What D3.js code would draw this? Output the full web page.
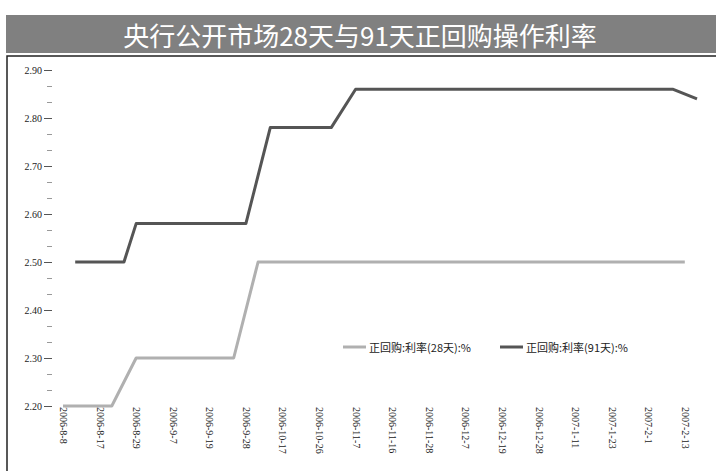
<!DOCTYPE html>
<html>
<head>
<meta charset="utf-8">
<script src="https://cdn.jsdelivr.net/npm/d3@7"></script>
<style>
  body { margin: 0; background: #fff; }
  text { font-family: "Noto Sans CJK SC", "DejaVu Sans", sans-serif; }
  .tick-label { font-family: "Liberation Serif", "DejaVu Serif", serif; font-size: 10px; fill: #222; }
</style>
</head>
<body>
<div id="my_dataviz"></div>
<script>

// operation dates (category axis), one label every third date
var dates = ["2006-8-8", "2006-8-10", "2006-8-15", "2006-8-17", "2006-8-22", "2006-8-24", "2006-8-29", "2006-8-31",
  "2006-9-5", "2006-9-7", "2006-9-12", "2006-9-14", "2006-9-19", "2006-9-21", "2006-9-26", "2006-9-28",
  "2006-10-10", "2006-10-12", "2006-10-17", "2006-10-19", "2006-10-24", "2006-10-26", "2006-10-31",
  "2006-11-2", "2006-11-7", "2006-11-9", "2006-11-14", "2006-11-16", "2006-11-21", "2006-11-23", "2006-11-28", "2006-11-30",
  "2006-12-5", "2006-12-7", "2006-12-12", "2006-12-14", "2006-12-19", "2006-12-21", "2006-12-26", "2006-12-28",
  "2007-1-4", "2007-1-9", "2007-1-11", "2007-1-16", "2007-1-18", "2007-1-23", "2007-1-25", "2007-1-30",
  "2007-2-1", "2007-2-6", "2007-2-8", "2007-2-13", "2007-2-15"]

// 28-day repo rate, null = no operation that day
var rate28 = [2.20, 2.20, 2.20, 2.20, 2.20, null, 2.30, 2.30, 2.30, 2.30, 2.30, 2.30, 2.30, 2.30, 2.30, null,
  2.50, 2.50, 2.50, 2.50, 2.50, 2.50, 2.50, 2.50, 2.50, 2.50, 2.50, 2.50, 2.50, 2.50, 2.50, 2.50,
  2.50, 2.50, 2.50, 2.50, 2.50, 2.50, 2.50, 2.50, 2.50, 2.50, 2.50, 2.50, 2.50, 2.50, 2.50, 2.50,
  2.50, 2.50, 2.50, 2.50, null]

// 91-day repo rate
var rate91 = [null, 2.50, 2.50, 2.50, 2.50, 2.50, 2.58, 2.58, 2.58, 2.58, 2.58, 2.58, 2.58, 2.58, 2.58, 2.58,
  null, 2.78, 2.78, 2.78, 2.78, 2.78, 2.78, null, 2.86, 2.86, 2.86, 2.86, 2.86, 2.86, 2.86, 2.86,
  2.86, 2.86, 2.86, 2.86, 2.86, 2.86, 2.86, 2.86, 2.86, 2.86, 2.86, 2.86, 2.86, 2.86, 2.86, 2.86,
  2.86, 2.86, 2.86, null, 2.84]

var yTicks = [2.20, 2.30, 2.40, 2.50, 2.60, 2.70, 2.80, 2.90]
var seriesNames = ["正回购:利率(28天):%", "正回购:利率(91天):%"]
var seriesColors = ["#b0b0b0", "#555555"]

var W = 716, H = 471;

var svg = d3.select("#my_dataviz")
  .append("svg")
  .attr("width", W)
  .attr("height", H);

// title bar
svg.append("rect")
  .attr("x", 6).attr("y", 15)
  .attr("width", W - 6).attr("height", 38)
  .attr("fill", "#808080");
svg.append("text")
  .attr("x", 360).attr("y", 34)
  .attr("text-anchor", "middle")
  .attr("dominant-baseline", "central")
  .attr("fill", "#fff")
  .style("font-size", "26px")
  .text("央行公开市场28天与91天正回购操作利率");

// frame
svg.append("path")
  .attr("d", "M7," + H + "V56H" + W)
  .attr("fill", "none")
  .attr("stroke", "#222")
  .attr("stroke-width", 1.5);

// scales
var x = d3.scalePoint()
  .domain(d3.range(dates.length))
  .range([63, 697]);

var y = d3.scaleLinear()
  .domain([2.2, 2.9])
  .range([406, 70]);

// Y axis: major ticks with labels, minor ticks at thirds
var yAxis = svg.append("g")
  .attr("transform", "translate(52,0)")
  .call(d3.axisLeft(y).tickValues(yTicks).tickSize(8).tickPadding(2).tickFormat(d3.format(".2f")));
yAxis.select(".domain").remove();
yAxis.selectAll("line").attr("stroke", "#555");
yAxis.selectAll("text").attr("class", "tick-label").style("font-family", null).style("font-size", null);

var minor = [];
yTicks.slice(0, -1).forEach(function(t) {
  minor.push(t + 0.1 / 3, t + 0.2 / 3);
});
svg.append("g")
  .attr("transform", "translate(52,0)")
  .call(d3.axisLeft(y).tickValues(minor).tickSize(5).tickFormat(""))
  .call(function(g) { g.select(".domain").remove(); })
  .selectAll("line").attr("stroke", "#999");

// X axis: rotated date labels, no axis line
var xAxis = svg.append("g")
  .attr("transform", "translate(0,404)")
  .call(d3.axisBottom(x)
    .tickValues(d3.range(0, dates.length, 3))
    .tickSize(0)
    .tickFormat(function(i) { return dates[i]; }));
xAxis.select(".domain").remove();
xAxis.selectAll("text")
  .attr("class", "tick-label")
  .style("font-family", null).style("font-size", null)
  .attr("y", 0)
  .attr("dy", "0.35em")
  .attr("transform", "rotate(90)")
  .attr("text-anchor", "start")
  .attr("x", 3);

// lines (connect across days with no operation)
var line = d3.line()
  .x(function(d) { return x(d.i); })
  .y(function(d) { return y(d.v); });

[rate28, rate91].forEach(function(vals, s) {
  var pts = vals.map(function(v, i) { return { i: i, v: v }; })
    .filter(function(d) { return d.v !== null; });
  svg.append("path")
    .datum(pts)
    .attr("fill", "none")
    .attr("stroke", seriesColors[s])
    .attr("stroke-width", 3)
    .attr("stroke-linejoin", "round")
    .attr("d", line);
});

// legend
var legendX = [343, 500];
seriesNames.forEach(function(name, s) {
  svg.append("line")
    .attr("x1", legendX[s]).attr("x2", legendX[s] + 23)
    .attr("y1", 347).attr("y2", 347)
    .attr("stroke", seriesColors[s])
    .attr("stroke-width", 3);
  svg.append("text")
    .attr("x", legendX[s] + 26).attr("y", 347)
    .attr("dominant-baseline", "central")
    .style("font-size", "11px")
    .attr("fill", "#222")
    .text(name);
});

</script>
</body>
</html>
